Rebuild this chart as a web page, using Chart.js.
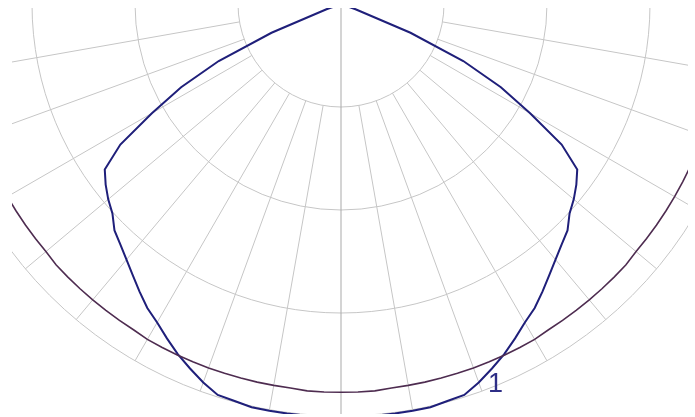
<!DOCTYPE html>
<html>
<head>
<meta charset="utf-8">
<script src="https://cdn.jsdelivr.net/npm/chart.js@4.4.0/dist/chart.umd.min.js"></script>
<style>
html, body { margin: 0; padding: 0; background: #fff; width: 695px; height: 417px; overflow: hidden; }
#clip { position: absolute; left: 12px; top: 8px; width: 676px; height: 406px; overflow: hidden; }
#polar { position: absolute; left: -83px; top: -416px; }
</style>
</head>
<body>
<div id="clip"><canvas id="polar" width="824" height="824"></canvas></div>
<script>
// gamma angles (deg from nadir) for one half plane, curves are symmetric
var angles = [0, 2.5, 5, 7.5, 10, 12.5, 15, 17.5, 20, 22.5, 25, 27.5, 30, 32.5, 35, 37.5, 40, 42.5, 45,
              47.5, 50, 52.5, 55, 57.5, 60, 62.5, 65, 67.5, 70, 72.5, 75, 77.5, 80, 82.5, 85, 87.5, 90];

// curve "1" (blue) C0-C180
var blueCurve = [400, 400, 401, 401, 401, 401, 399, 398, 391, 383, 375, 366, 357, 350, 341, 332, 324, 317, 311,
                 301, 295, 288, 280, 254, 212, 175, 131, 73, 15, 0, 0, 0, 0, 0, 0, 0, 0];

// purple curve C90-C270
var purpleCurve = [377, 377, 377, 376, 376, 376, 376, 376, 376, 376, 376, 376, 376, 375, 375, 375, 375, 375, 375,
                   375, 374, 374, 374, 374, 374, 374, 374, 375, 375, 375, 375, 375, 375, 375, 375, 375, 375];

var ringValues = [100, 200, 300, 400];
var curveLabel = "1";

// full circle of labels, index 0 points down
var labels = [];
for (var i = 0; i < 144; i++) {
    labels.push(i * 2.5);
}

function fullCircle(half){
    var out = [];
    labels.forEach(function(a){
        if (a <= 90) {
            out.push(half[angles.indexOf(a)]);
        } else if (a >= 270) {
            out.push(half[angles.indexOf(360 - a)]);
        } else {
            out.push(null);
        }
    });
    return out;
}

var polarGrid = {
    id: 'polarGrid',
    beforeDatasetsDraw: function(chart){
        var r = chart.scales.r;
        var ctx = chart.ctx;
        var outer = r.getDistanceFromCenterForValue(ringValues[ringValues.length - 1]);
        ctx.save();
        ctx.lineWidth = 1;
        chart.data.labels.forEach(function(a, i){
            if (a % 10 !== 0) return;
            var axis = (a === 0 || a === 180);
            var inner = axis ? 0 : r.getDistanceFromCenterForValue(ringValues[0]);
            var p0 = r.getPointPosition(i, inner);
            var p1 = r.getPointPosition(i, outer);
            ctx.strokeStyle = axis ? '#a9a9a9' : '#c6c6c6';
            ctx.beginPath();
            ctx.moveTo(p0.x, p0.y);
            ctx.lineTo(p1.x, p1.y);
            ctx.stroke();
        });
        ctx.restore();
    },
    afterDatasetsDraw: function(chart){
        var r = chart.scales.r;
        var ctx = chart.ctx;
        // label next to curve 1, right side at 20 deg
        var p = r.getPointPosition(136, r.getDistanceFromCenterForValue(400));
        ctx.save();
        ctx.fillStyle = '#2e2e86';
        ctx.font = '27px "Liberation Sans", Arial, sans-serif';
        ctx.textAlign = 'left';
        ctx.textBaseline = 'alphabetic';
        ctx.fillText(curveLabel, p.x + 6, p.y + 1);
        ctx.restore();
    }
};

new Chart('polar', {
    type: 'radar',
    data: {
        labels: labels,
        datasets: [
            {
                label: 'C90-C270',
                data: fullCircle(purpleCurve),
                borderColor: '#4e2c50',
                borderWidth: 1.6,
                pointRadius: 0,
                fill: false,
                spanGaps: false
            },
            {
                label: 'C0-C180',
                data: fullCircle(blueCurve),
                borderColor: '#1f1f7a',
                borderWidth: 2,
                pointRadius: 0,
                fill: false,
                spanGaps: false
            }
        ]
    },
    options: {
        responsive: false,
        animation: false,
        layout: { padding: 0 },
        elements: { line: { tension: 0 } },
        plugins: {
            legend: { display: false },
            tooltip: { enabled: false }
        },
        scales: {
            r: {
                min: 0,
                max: 400,
                startAngle: 180,
                ticks: { display: false, stepSize: 100 },
                pointLabels: { display: false },
                angleLines: { display: false },
                grid: { circular: true, color: '#c6c6c6', lineWidth: 1 }
            }
        }
    },
    plugins: [polarGrid]
});
</script>
</body>
</html>
